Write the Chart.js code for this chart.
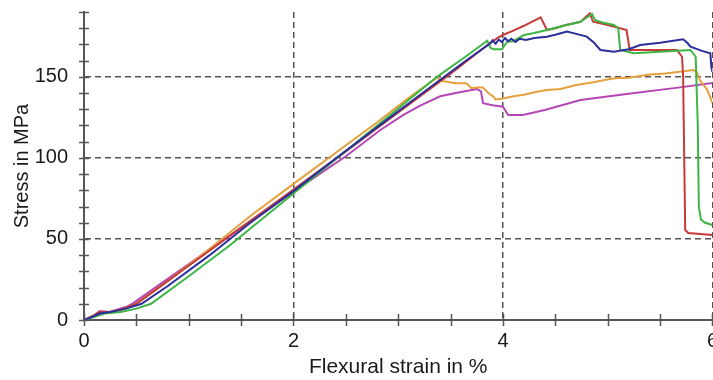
<!DOCTYPE html>
<html><head><meta charset="utf-8">
<script src="https://cdn.jsdelivr.net/npm/chart.js@4.4.1/dist/chart.umd.min.js"></script>
<style>
html,body{margin:0;padding:0;overflow:hidden;background:#fff}
#wrap{width:718px;height:380px;position:relative}
</style>
</head><body><div id="wrap"><canvas id="c"></canvas></div>
<script>
// ---- data ----
const strainBlue = [0, 0.08, 0.15, 0.25, 0.4, 0.55, 0.8, 1.2, 1.585, 2.0, 2.4, 2.8, 3.2, 3.655, 3.88, 3.9, 3.93, 3.96, 3.99, 4.02, 4.05, 4.08, 4.12, 4.16, 4.22, 4.3, 4.42, 4.5, 4.61, 4.7, 4.8, 4.87, 4.93, 5.06, 5.2, 5.31, 5.5, 5.72, 5.76, 5.79, 5.9, 5.98, 5.99, 6.0];
const stressBlue = [0, 2, 4, 5, 7, 10, 21, 40, 59.8, 79.5, 99.5, 119, 138.5, 160.4, 170.7, 172.5, 170.5, 173, 171.5, 174, 172, 173.5, 171.5, 173.5, 172.8, 174, 174.8, 176, 177.9, 176.5, 174.8, 171, 166.6, 165.5, 167, 169.6, 171, 173.2, 171, 168.6, 166, 164.5, 156, 153];

const strainGreen = [0, 0.1, 0.2, 0.35, 0.5, 0.64, 1.0, 1.39, 1.8, 2.2, 2.6, 3.0, 3.37, 3.655, 3.85, 3.88, 3.91, 3.99, 4.04, 4.1, 4.2, 4.3, 4.42, 4.55, 4.74, 4.85, 4.88, 4.95, 5.06, 5.1, 5.12, 5.25, 5.5, 5.79, 5.84, 5.86, 5.87, 5.89, 5.93, 6.0];
const stressGreen = [0, 2, 4, 5, 7, 10, 27, 46, 67.5, 88.5, 109.5, 130.5, 150, 163, 172.3, 168, 167, 167, 171.7, 172, 175.8, 177, 178.9, 181, 184, 188.8, 185, 183.5, 182, 180, 166.6, 164.5, 165.5, 166.6, 162.4, 120, 70, 62, 60, 58.6];

const strainRed = [0, 0.1, 0.15, 0.25, 0.4, 0.5, 1.0, 1.5, 2.0, 2.5, 3.0, 3.5, 3.88, 3.95, 4.0, 4.1, 4.2, 4.36, 4.42, 4.5, 4.6, 4.74, 4.83, 4.86, 5.0, 5.12, 5.18, 5.21, 5.4, 5.66, 5.71, 5.72, 5.74, 5.77, 6.0];
const stressRed = [0, 3, 5, 5, 7.5, 10, 33.5, 57, 80.5, 104, 128, 152, 171, 174, 175.8, 178.5, 181.5, 186.7, 178.9, 180, 182, 184, 189.2, 184, 182, 180, 178.9, 166.6, 166.5, 166.6, 162.4, 150, 55.5, 53.7, 52.4];

const strainOrange = [0, 0.1, 0.2, 0.35, 0.5, 0.8, 1.2, 1.585, 2.0, 2.4, 2.8, 3.1, 3.37, 3.42, 3.46, 3.55, 3.65, 3.7, 3.76, 3.81, 3.86, 3.91, 3.93, 4.0, 4.1, 4.2, 4.3, 4.42, 4.55, 4.7, 4.85, 5.06, 5.2, 5.4, 5.55, 5.69, 5.82, 5.85, 5.88, 5.95, 6.0];
const stressOrange = [0, 3, 4.5, 6, 10, 24, 44, 64, 84, 103, 122, 137, 149.5, 147.5, 147, 146, 146, 143, 143.5, 143.5, 140, 137.8, 136, 136.7, 138, 139, 140.5, 141.9, 142.5, 145, 146.5, 149.1, 149.5, 151.5, 152, 153.2, 154.2, 153, 148, 142, 134];

const strainMagenta = [0, 0.1, 0.15, 0.25, 0.4, 0.46, 1.0, 1.5, 2.0, 2.5, 2.83, 3.05, 3.2, 3.4, 3.55, 3.75, 3.79, 3.81, 3.9, 4.0, 4.05, 4.19, 4.4, 4.74, 5.2, 5.69, 5.98, 6.0];
const stressMagenta = [0, 3, 5.5, 5, 8, 10, 34.5, 57, 79.2, 101, 117.2, 126.5, 132, 138, 140, 142.5, 141, 133.7, 132.5, 131.6, 126.5, 126.5, 129.5, 135.7, 139.5, 143.5, 146, 146];

const xLabelValues = [0, 2, 4, 6];
const yLabelValues = [0, 50, 100, 150];
const xTitle = 'Flexural strain in %';
const yTitle = 'Stress in MPa';

// ---- build ----
const pts = (xs, ys) => xs.map((x, i) => ({x, y: ys[i]}));
const FONT = '"Liberation Sans", Arial, sans-serif';
const AX = '#555';
const ds = (data, color) => ({data, borderColor: color, borderWidth: 2, pointRadius: 0, showLine: true, tension: 0, fill: false});

const tickMarks = {
  id: 'tickMarks',
  afterDatasetsDraw(chart) {
    const {ctx, scales: {x, y}, chartArea: a} = chart;
    ctx.save();
    ctx.strokeStyle = AX; ctx.lineWidth = 1.5;
    y.ticks.forEach(t => { const p = Math.round(y.getPixelForValue(t.value)) + 0.5; ctx.beginPath(); ctx.moveTo(a.left - 5, p); ctx.lineTo(a.left + 5, p); ctx.stroke(); });
    x.ticks.forEach(t => { const p = Math.round(x.getPixelForValue(t.value)) + 0.5; ctx.beginPath(); ctx.moveTo(p, a.bottom - 6); ctx.lineTo(p, a.bottom + 6); ctx.stroke(); });
    ctx.restore();
  }
};

new Chart(document.getElementById('c'), {
  type: 'scatter',
  data: { datasets: [
    ds(pts(strainBlue, stressBlue), '#2b2f9c'),
    ds(pts(strainGreen, stressGreen), '#3db545'),
    ds(pts(strainRed, stressRed), '#c63a3a'),
    ds(pts(strainOrange, stressOrange), '#e6a03c'),
    ds(pts(strainMagenta, stressMagenta), '#b546b5')
  ]},
  options: {
    responsive: true, maintainAspectRatio: false, animation: false, devicePixelRatio: 1,
    layout: { padding: 0 },
    plugins: { legend: {display: false}, tooltip: {enabled: false} },
    scales: {
      x: {
        type: 'linear', min: 0, max: 6,
        afterFit(s) { s.height = 60; },
        ticks: { stepSize: 0.5, autoSkip: false, maxRotation: 0, padding: 0, color: '#1a1a1a',
          font: {family: FONT, size: 20},
          callback: v => xLabelValues.includes(v) ? String(v) : '' },
        grid: { drawTicks: true, tickLength: 9, tickColor: 'rgba(0,0,0,0)', lineWidth: 1.5,
          color: c => (c.tick && c.tick.value > 0 && xLabelValues.includes(c.tick.value)) ? AX : 'rgba(0,0,0,0)' },
        border: { display: true, color: AX, width: 2, dash: [6, 4] },
        title: { display: true, text: xTitle, color: '#1a1a1a', font: {family: FONT, size: 21}, padding: {top: 0, bottom: 0} }
      },
      y: {
        type: 'linear', min: 0, max: 190,
        afterFit(s) { s.width = 84; },
        ticks: { stepSize: 10, autoSkip: false, padding: 0, color: '#1a1a1a',
          font: {family: FONT, size: 20},
          callback: v => yLabelValues.includes(v) ? String(v) : '' },
        grid: { drawTicks: true, tickLength: 16, tickColor: 'rgba(0,0,0,0)', lineWidth: 1.5,
          color: c => (c.tick && c.tick.value > 0 && yLabelValues.includes(c.tick.value)) ? AX : 'rgba(0,0,0,0)' },
        border: { display: true, color: AX, width: 2, dash: [6, 4] },
        title: { display: true, text: yTitle, color: '#1a1a1a', font: {family: FONT, size: 20}, padding: {top: 10, bottom: 0} }
      }
    }
  },
  plugins: [tickMarks]
});
</script>
</body></html>
